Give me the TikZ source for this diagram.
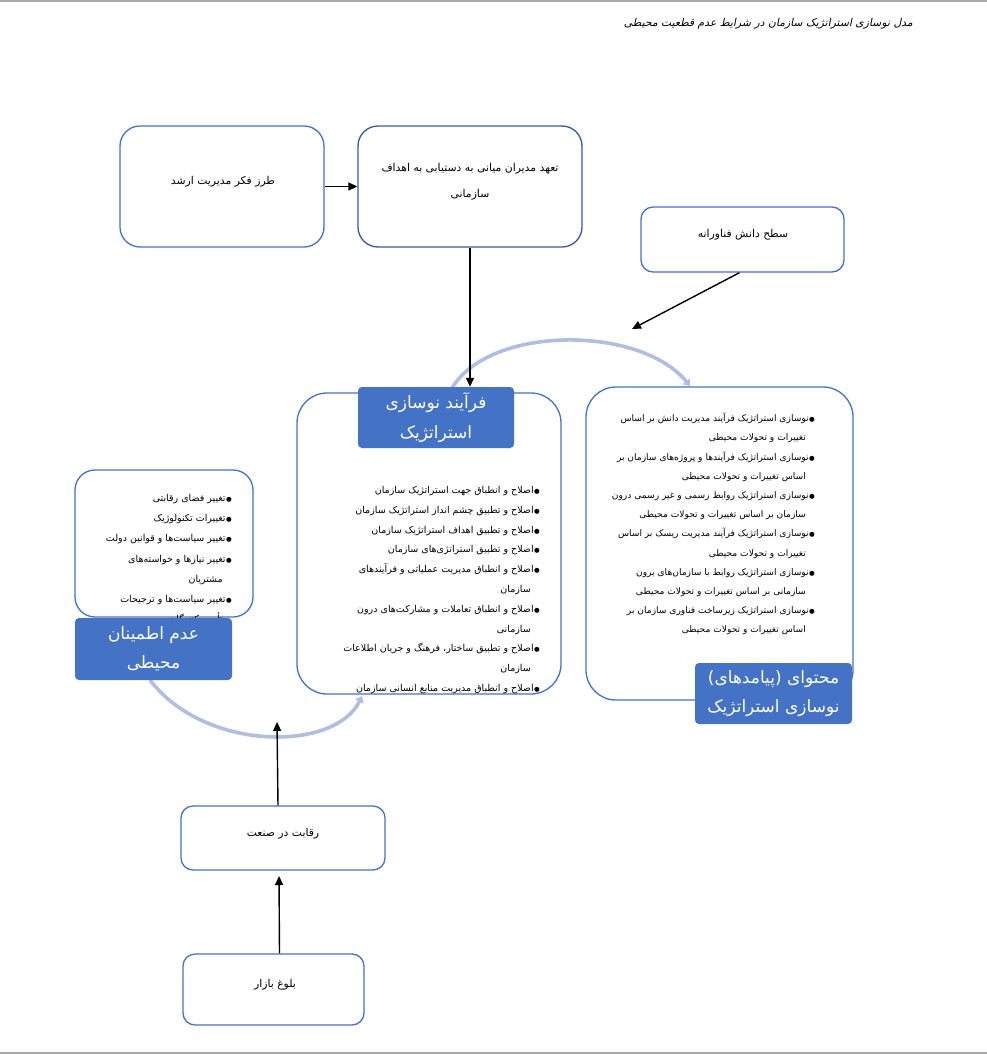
\documentclass[tikz,border=0pt]{standalone}
\usepackage{fontspec}
\usetikzlibrary{arrows.meta}
\TeXXeTstate=1
\newfontfamily\fa[Script=Arabic]{DejaVu Sans}
\newfontfamily\fait[Script=Arabic,FakeSlant=0.2]{DejaVu Sans}
\newcommand\rl[1]{\beginR #1\endR}
\newcommand\bl[1]{\beginR{\fontsize{6.5}{6.5}\selectfont ●}\kern0.5pt #1\endR}
\newcommand\cl[1]{\beginR\hspace{9pt}#1\endR}
\definecolor{boxblue}{RGB}{68,114,196}
\definecolor{darkblue}{RGB}{52,90,160}
\definecolor{labelblue}{RGB}{68,114,196}
\definecolor{arcblue}{RGB}{176,190,224}
\definecolor{pagegray}{RGB}{170,170,170}
\tikzset{
  box/.style={draw=boxblue, line width=1.3pt, fill=white, rounded corners=#1, inner sep=0pt},
  box/.default=16pt,
  lbl/.style={fill=labelblue, rounded corners=4pt, text=white, align=center, inner sep=0pt,
    minimum width=156pt, minimum height=61pt, font=\fa\fontsize{17}{29.5}\selectfont},
  txt/.style={font=\fa\fontsize{10.8}{13}\selectfont, align=center, inner sep=0pt},
  listtxt/.style={font=\fa\fontsize{9.5}{19.6}\selectfont, align=right, inner sep=0pt, anchor=north east},
  arr/.style={draw=black, line width=1.4pt, -{Triangle[length=9pt,width=8pt]}},
  arcarr/.style={draw=arcblue, line width=3.6pt, -{Triangle[length=6pt,width=9pt]}}
}
\begin{document}
\begin{tikzpicture}[x=1pt,y=-1pt]
\useasboundingbox (0,0) rectangle (987,1055);
\fill[white] (0,0) rectangle (987,1055);
\draw[pagegray, line width=1.5pt] (0,1) -- (987,1);
\draw[pagegray, line width=1.2pt] (0,1053) -- (987,1053);

% title
\node[font=\fait\fontsize{10.8}{13}\selectfont, anchor=east, inner sep=0pt] (title) at (913,24)
  {\rl{مدل نوسازی استراتژیک سازمان در شرایط عدم قطعیت محیطی}};

% cycle arcs
\draw[arcarr] (452,388) .. controls (490,325) and (640,325) .. (690,386);
\draw[arcarr] (150,680) .. controls (205,752) and (335,752) .. (362,696);

% top boxes
\node[box=20pt, minimum width=204pt, minimum height=121pt] (tl) at (222,186.5) {};
\node[box=20pt, draw=darkblue, minimum width=224pt, minimum height=121pt] (tm) at (470,186.5) {};
\node[box=12pt, minimum width=203pt, minimum height=65pt] (tr) at (742.5,239.5) {};
\node[txt] (tltxt) at (223,181.5) {\rl{طرز فکر مدیریت ارشد}};
\node[txt, font=\fa\fontsize{10.8}{26}\selectfont] (tmtxt) at (470,182)
  {\rl{تعهد مدیران میانی به دستیابی به اهداف}\\\rl{سازمانی}};
\node[txt] (trtxt) at (743,235) {\rl{سطح دانش فناورانه}};

% big boxes
\node[box=30pt, minimum width=267pt, minimum height=313pt] (rb) at (719.5,543.5) {};
\node[box=30pt, minimum width=264pt, minimum height=301pt] (cb) at (429,543.5) {};
\node[box=20pt, minimum width=178pt, minimum height=147pt] (lb) at (164,543.5) {};

% lists
\node[listtxt, font=\fa\fontsize{9.1}{19.2}\selectfont] (rtxt) at (815,413) {%
\bl{نوسازی استراتژیک فرآیند مدیریت دانش بر اساس}\\
\cl{تغییرات و تحولات محیطی}\\
\bl{نوسازی استراتژیک فرآیندها و پروژه‌های سازمان بر}\\
\cl{اساس تغییرات و تحولات محیطی}\\
\bl{نوسازی استراتژیک روابط رسمی و غیر رسمی درون}\\
\cl{سازمان بر اساس تغییرات و تحولات محیطی}\\
\bl{نوسازی استراتژیک فرآیند مدیریت ریسک بر اساس}\\
\cl{تغییرات و تحولات محیطی}\\
\bl{نوسازی استراتژیک روابط با سازمان‌های برون}\\
\cl{سازمانی بر اساس تغییرات و تحولات محیطی}\\
\bl{نوسازی استراتژیک زیرساخت فناوری سازمان بر}\\
\cl{اساس تغییرات و تحولات محیطی}};

\node[listtxt, font=\fa\fontsize{9.5}{19.8}\selectfont] (ctxt) at (540,486) {%
\bl{اصلاح و انطباق جهت استراتژیک سازمان}\\
\bl{اصلاح و تطبیق چشم انداز استراتژیک سازمان}\\
\bl{اصلاح و تطبیق اهداف استراتژیک سازمان}\\
\bl{اصلاح و تطبیق استراتژی‌های سازمان}\\
\bl{اصلاح و انطباق مدیریت عملیاتی و فرآیندهای}\\
\cl{سازمان}\\
\bl{اصلاح و انطباق تعاملات و مشارکت‌های درون}\\
\cl{سازمانی}\\
\bl{اصلاح و تطبیق ساختار، فرهنگ و جریان اطلاعات}\\
\cl{سازمان}\\
\bl{اصلاح و انطباق مدیریت منابع انسانی سازمان}};

\node[listtxt, font=\fa\fontsize{9.5}{20.2}\selectfont] (ltxt) at (232,494) {%
\bl{تغییر فضای رقابتی}\\
\bl{تغییرات تکنولوژیک}\\
\bl{تغییر سیاست‌ها و قوانین دولت}\\
\bl{تغییر نیازها و خواسته‌های}\\
\cl{مشتریان}\\
\bl{تغییر سیاست‌ها و ترجیحات}\\
\cl{تأمین کنندگان}};

% labels
\node[lbl] (cl) at (436,417.5) {\rl{فرآیند نوسازی}\\\rl{استراتژیک}};
\node[lbl, minimum width=157pt] (rl) at (773.5,693.5) {\rl{محتوای (پیامدهای)}\\\rl{نوسازی استراتژیک}};
\node[lbl, minimum width=157pt, minimum height=62pt] (ll) at (153.5,649) {\rl{عدم اطمینان}\\\rl{محیطی}};

% bottom boxes
\node[box=12pt, minimum width=204pt, minimum height=64pt] (b1) at (283,838) {};
\node[box=12pt, minimum width=181pt, minimum height=71pt] (b2) at (273.5,989.5) {};
\node[txt] (b1txt) at (283,834) {\rl{رقابت در صنعت}};
\node[txt] (b2txt) at (275,985) {\rl{بلوغ بازار}};

% connectors
\coordinate (trend) at (632,329);
\coordinate (up1) at (277,722);
\coordinate (up2) at (279,876);
\draw[arr] (tl.east) -- (tm.west);
\draw[arr] (tm.south) -- (tm.south |- cl.north);
\draw[arr] ([xshift=-3pt]tr.south) -- (trend);
\draw[arr] ([xshift=-5pt]b1.north) -- (up1);
\draw[arr] ([xshift=6pt]b2.north) -- (up2);
\end{tikzpicture}
\end{document}
